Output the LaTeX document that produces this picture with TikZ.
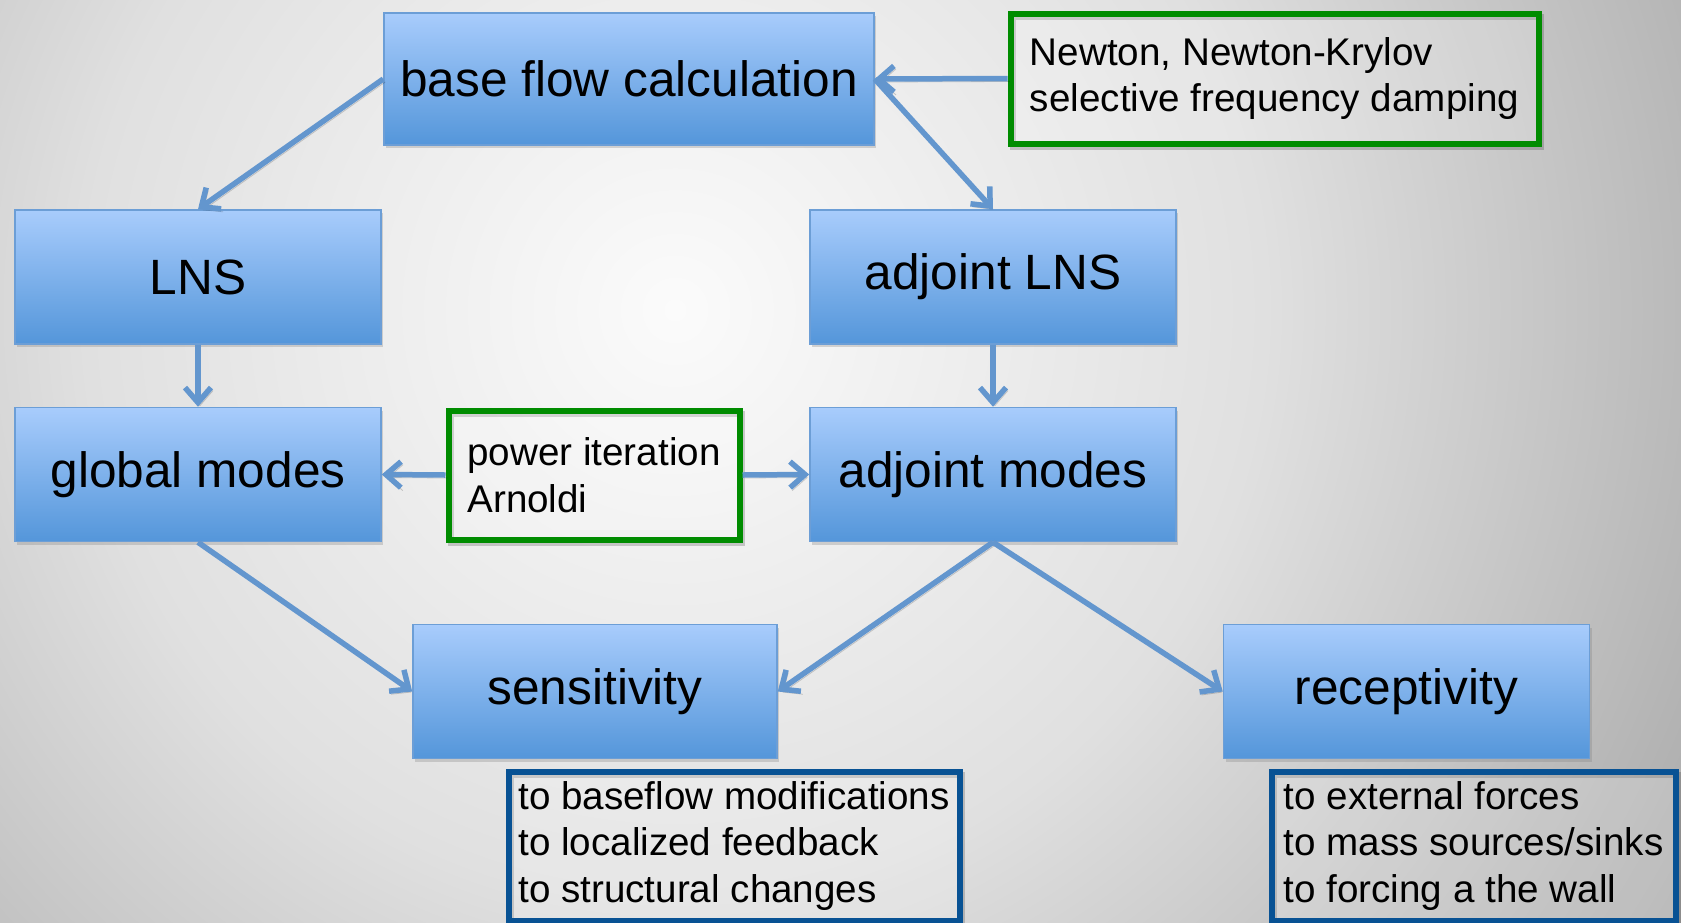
\documentclass[tikz,border=0pt]{standalone}
\usepackage{fontspec}
\setmainfont{Liberation Sans}
\usetikzlibrary{arrows.meta,shadows}

% palette
\definecolor{boxtop}{RGB}{168,204,252}
\definecolor{boxbot}{RGB}{84,150,218}
\definecolor{boxline}{RGB}{108,158,214}
\definecolor{flow}{RGB}{99,150,206}
\definecolor{methodgreen}{RGB}{0,140,0}
\definecolor{notesblue}{RGB}{8,82,148}
\definecolor{bgcentre}{RGB}{251,251,251}
\definecolor{bgmid}{RGB}{224,224,224}
\definecolor{bgedge}{RGB}{170,170,170}

% soft radial backdrop (25bp is the rim of the filled circle)
\pgfdeclareradialshading{backdrop}{\pgfpointorigin}{%
  color(0bp)=(bgcentre); color(12.5bp)=(bgmid); color(25bp)=(bgedge); color(50bp)=(bgedge)}

\begin{document}
\begin{tikzpicture}[
  x=0.5pt, y=-0.5pt,
  stage/.style={draw=boxline, line width=0.75pt, top color=boxtop, bottom color=boxbot,
    minimum width=183pt, minimum height=67pt, inner sep=0pt,
    font=\fontsize{24.8}{29}\selectfont,
    drop shadow={shadow xshift=1.2pt, shadow yshift=-1.5pt, opacity=0.3}},
  method/.style={draw=methodgreen, line width=3pt, fill=white, fill opacity=0.2,
    text opacity=1, align=left, inner sep=0pt,
    font=\fontsize{19.3}{23.3}\selectfont,
    preaction={draw=black, draw opacity=0.18, fill opacity=0, line width=3pt,
      transform canvas={xshift=1.2pt, yshift=-1.5pt}}},
  notes/.style={method, draw=notesblue},
  flowarrow/.style={draw=flow, line width=2.75pt,
    -{Straight Barb[length=7.5pt,width=13pt]},
    preaction={draw=black, draw opacity=0.18,
      transform canvas={xshift=1pt, yshift=-1.5pt}}}
]
\begin{scope}
  \clip (0,0) rectangle (1681,922);
  \fill[shading=backdrop] (675,310) circle[radius=590pt];
\end{scope}
\useasboundingbox (0,0) rectangle (1681,922);

% stages
\node[stage, minimum width=245pt, minimum height=66pt] (base) at (629,79) {base flow calculation};
\node[stage] (lns) at (198,277) {LNS};
\node[stage] (adjlns) at (993,277) {adjoint LNS};
\node[stage] (global) at (198,474.5) {global modes};
\node[stage] (adjmodes) at (993,474.5) {adjoint modes};
\node[stage, minimum width=182pt] (sens) at (595,691.5) {sensitivity};
\node[stage] (recep) at (1406.5,691.5) {receptivity};

% methods and notes
\node[method, minimum width=264pt, minimum height=65pt] (newton) at (1274.5,78.5)
  {Newton, Newton-Krylov\\selective frequency damping};
\node[method, minimum width=145.5pt, minimum height=64.5pt] (power) at (594,475)
  {power iteration\\Arnoldi};
\node[notes, minimum width=225.5pt, minimum height=74.5pt] (senstext) at (734,846)
  {to baseflow modifications\\to localized feedback\\to structural changes};
\node[notes, minimum width=202pt, minimum height=74.5pt] (receptext) at (1473.5,846)
  {to external forces\\to mass sources/sinks\\to forcing a the wall};

% connectors
\draw[flowarrow] (base.west) -- (lns.north);
\draw[flowarrow] (base.east) -- (adjlns.north);
\draw[flowarrow] (newton.west) -- (base.east);
\draw[flowarrow] (lns.south) -- (global.north);
\draw[flowarrow] (adjlns.south) -- (adjmodes.north);
\draw[flowarrow] (power.west) -- (global.east);
\draw[flowarrow] (power.east) -- (adjmodes.west);
\draw[flowarrow] (global.south) -- (sens.west);
\draw[flowarrow] (adjmodes.south) -- (sens.east);
\draw[flowarrow] (adjmodes.south) -- (recep.west);
\end{tikzpicture}
\end{document}
